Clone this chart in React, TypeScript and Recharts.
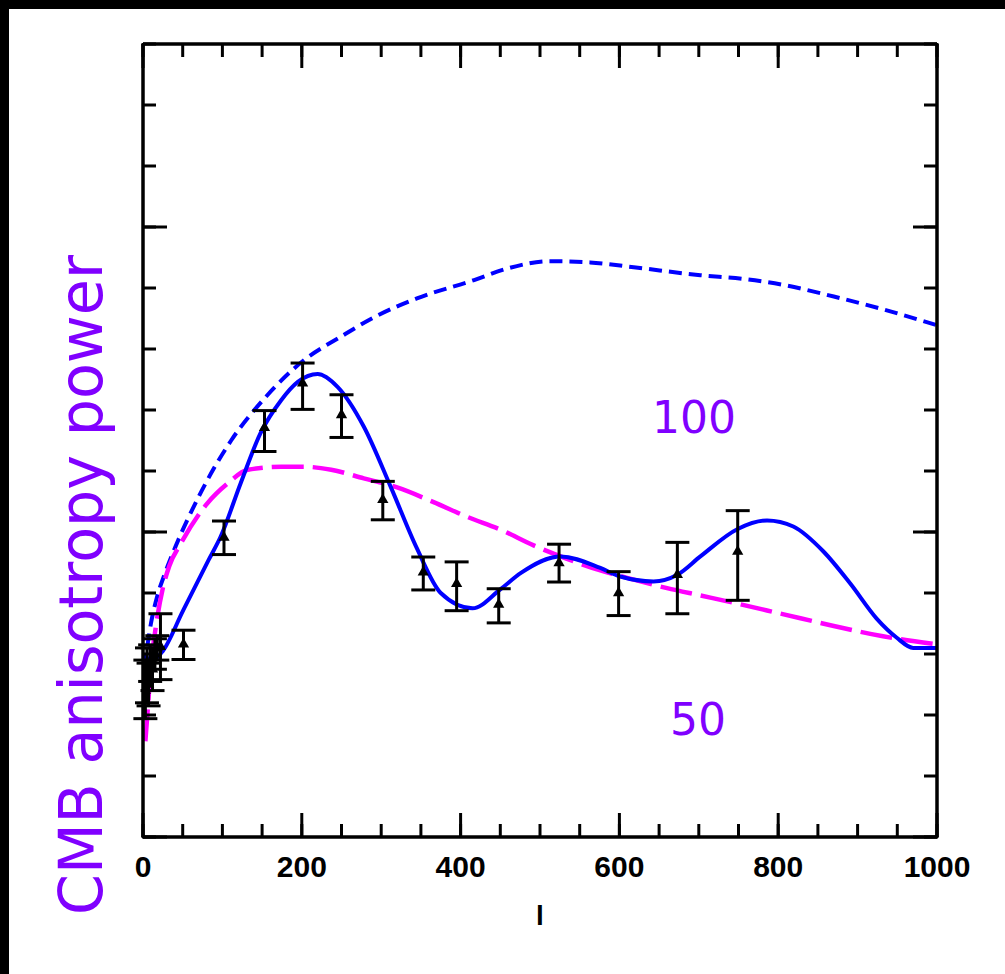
import {
  ComposedChart,
  Line,
  Scatter,
  XAxis,
  YAxis,
  ZAxis,
  ErrorBar,
} from "recharts";

// multipole l on x, power on y (frame spans 0..130)
const X_MINOR_TICKS = [
  0, 50, 100, 150, 200, 250, 300, 350, 400, 450, 500, 550, 600, 650, 700, 750,
  800, 850, 900, 950, 1000,
];
const X_MAJOR_TICKS = [0, 200, 400, 600, 800, 1000];
const Y_MINOR_TICKS = [0, 10, 20, 30, 40, 50, 60, 70, 80, 90, 100, 110, 120, 130];
const Y_MAJOR_TICKS = [0, 50, 100];

// blue solid model
const SOLID_L = [
  2, 10, 18, 25, 50, 83, 98, 123, 148, 174, 195, 220, 245, 278, 312, 345, 375,
  415, 450, 476, 526, 576, 601, 643, 673, 702, 749, 786, 819, 857, 891, 924,
  949, 970, 1000,
];
const SOLID_Y = [
  29.5, 29.2, 29.5, 30.5, 37, 45.5, 49.3, 58, 66.2, 71.6, 74.6, 75.9, 73.8,
  67.3, 57.4, 47.3, 40.0, 37.5, 40.6, 43.3, 46.0, 44.1, 42.7, 41.9, 43.0, 46.0,
  50.5, 51.9, 50.9, 46.8, 41.5, 35.8, 32.7, 31.0, 31.0,
];

// blue dashed model
const DASHED_L = [
  2, 10, 18, 27, 39, 69, 111, 153, 203, 249, 291, 345, 417, 459, 513, 563, 618,
  702, 756, 807, 870, 932, 1000,
];
const DASHED_Y = [
  28, 35, 39.5, 43, 47, 55.5, 65, 71.9, 78.2, 82, 85.2, 88.3, 91.3, 93.2, 94.4,
  94.2, 93.4, 92.1, 91.5, 90.5, 88.6, 86.5, 83.9,
];

// magenta long-dashed model
const MAGENTA_L = [
  3, 6, 10, 16, 25, 33, 48, 81, 107, 132, 174, 203, 237, 278, 320, 366, 408,
  450, 492, 534, 576, 618, 660, 702, 744, 807, 870, 932, 1000,
];
const MAGENTA_Y = [
  15.7, 21, 28, 34.3, 40.8, 44.4, 48.2, 54.7, 58.0, 60.2, 60.7, 60.7, 60.2,
  58.8, 57.3, 54.9, 52.5, 50.4, 47.8, 45.6, 43.7, 42.2, 40.8, 39.6, 38.4, 36.5,
  34.6, 32.9, 31.6,
];

// measurements with asymmetric error bars
const POINT_L = [
  3, 5, 7, 9, 12, 15, 18, 22, 51, 102, 153, 201, 250, 302, 353, 395, 448, 524,
  599, 673, 749,
];
const POINT_Y = [
  24, 26.5, 25, 28.5, 27.5, 30, 31, 31.2, 31.6, 49.1, 67.1, 74.4, 69.2, 55.3,
  43.4, 41.5, 38.1, 44.9, 40.0, 43.0, 46.8,
];
const POINT_ERR_LO = [
  4.6, 4.5, 3.5, 3, 3.5, 2.5, 2, 5.4, 2.5, 2.8, 3.9, 4.3, 3.7, 3.3, 2.9, 4.4,
  3.0, 3.1, 3.7, 6.4, 8.0,
];
const POINT_ERR_HI = [
  5, 4.5, 3.5, 3, 3.5, 2.5, 2, 5.4, 2.3, 2.7, 2.8, 3.3, 3.3, 3.0, 2.5, 3.6,
  2.6, 3.1, 3.5, 5.3, 6.7,
];

const solid = SOLID_L.map((l, i) => ({ l, y: SOLID_Y[i] }));
const dashed = DASHED_L.map((l, i) => ({ l, y: DASHED_Y[i] }));
const magenta = MAGENTA_L.map((l, i) => ({ l, y: MAGENTA_Y[i] }));
const points = POINT_L.map((l, i) => ({
  l,
  y: POINT_Y[i],
  err: [POINT_ERR_LO[i], POINT_ERR_HI[i]],
}));

const AXIS = { stroke: "#000", strokeWidth: 3.5 };
const TICK = { stroke: "#000", strokeWidth: 3 };
const PURPLE = "#8000ff";
const noLabel = () => null;
const xLabel = (v: number) => (v % 200 === 0 ? String(v) : "");

export default function App() {
  return (
    <div
      style={{
        position: "absolute",
        left: 0,
        top: 0,
        width: 1005,
        height: 974,
        background: "#fff",
        overflow: "hidden",
      }}
    >
      <ComposedChart
        width={1005}
        height={974}
        margin={{ top: 42, right: 66, bottom: 135, left: 141 }}
      >
        <ZAxis range={[55, 55]} />
        <XAxis
          xAxisId="b"
          dataKey="l"
          type="number"
          domain={[0, 1000]}
          ticks={X_MINOR_TICKS}
          interval={0}
          tickFormatter={xLabel}
          tickSize={-13}
          tickMargin={32}
          height={1}
          axisLine={AXIS}
          tickLine={TICK}
          tick={{
            fill: "#000",
            fontSize: 30,
            fontWeight: "bold",
            fontFamily: "Liberation Sans, Arial, sans-serif",
          }}
          allowDataOverflow
        />
        <XAxis
          xAxisId="bMajor"
          dataKey="l"
          type="number"
          domain={[0, 1000]}
          ticks={X_MAJOR_TICKS}
          interval={0}
          tick={noLabel}
          tickSize={-25}
          height={1}
          axisLine={false}
          tickLine={TICK}
          allowDataOverflow
        />
        <XAxis
          xAxisId="t"
          orientation="top"
          dataKey="l"
          type="number"
          domain={[0, 1000]}
          ticks={X_MINOR_TICKS}
          interval={0}
          tick={noLabel}
          tickSize={-13}
          height={1}
          axisLine={AXIS}
          tickLine={TICK}
          allowDataOverflow
        />
        <XAxis
          xAxisId="tMajor"
          orientation="top"
          dataKey="l"
          type="number"
          domain={[0, 1000]}
          ticks={X_MAJOR_TICKS}
          interval={0}
          tick={noLabel}
          tickSize={-25}
          height={1}
          axisLine={false}
          tickLine={TICK}
          allowDataOverflow
        />
        <YAxis
          yAxisId="l"
          dataKey="y"
          type="number"
          domain={[0, 130]}
          ticks={Y_MINOR_TICKS}
          interval={0}
          tick={noLabel}
          tickSize={-13}
          width={1}
          axisLine={AXIS}
          tickLine={TICK}
          allowDataOverflow
        />
        <YAxis
          yAxisId="lMajor"
          type="number"
          domain={[0, 130]}
          ticks={Y_MAJOR_TICKS}
          interval={0}
          tick={noLabel}
          tickSize={-25}
          width={1}
          axisLine={false}
          tickLine={TICK}
          allowDataOverflow
        />
        <YAxis
          yAxisId="r"
          orientation="right"
          type="number"
          domain={[0, 130]}
          ticks={Y_MINOR_TICKS}
          interval={0}
          tick={noLabel}
          tickSize={-13}
          width={1}
          axisLine={AXIS}
          tickLine={TICK}
          allowDataOverflow
        />
        <YAxis
          yAxisId="rMajor"
          orientation="right"
          type="number"
          domain={[0, 130]}
          ticks={Y_MAJOR_TICKS}
          interval={0}
          tick={noLabel}
          tickSize={-25}
          width={1}
          axisLine={false}
          tickLine={TICK}
          allowDataOverflow
        />
        <Line
          xAxisId="b"
          yAxisId="l"
          data={dashed}
          dataKey="y"
          type="monotone"
          stroke="#0000ff"
          strokeWidth={4}
          strokeDasharray="13 7"
          dot={false}
          activeDot={false}
          isAnimationActive={false}
        />
        <Line
          xAxisId="b"
          yAxisId="l"
          data={magenta}
          dataKey="y"
          type="monotone"
          stroke="#ff00ff"
          strokeWidth={4.5}
          strokeDasharray="32 9"
          dot={false}
          activeDot={false}
          isAnimationActive={false}
        />
        <Line
          xAxisId="b"
          yAxisId="l"
          data={solid}
          dataKey="y"
          type="monotone"
          stroke="#0000ff"
          strokeWidth={4}
          dot={false}
          activeDot={false}
          isAnimationActive={false}
        />
        <Scatter
          xAxisId="b"
          yAxisId="l"
          data={points}
          dataKey="y"
          fill="#000"
          shape="triangle"
          isAnimationActive={false}
        >
          <ErrorBar
            dataKey="err"
            direction="y"
            width={12}
            strokeWidth={3}
            stroke="#000"
          />
        </Scatter>
      </ComposedChart>

      <svg
        width={1005}
        height={974}
        style={{ position: "absolute", left: 0, top: 0, pointerEvents: "none" }}
      >
        <text
          x={540}
          y={925}
          textAnchor="middle"
          fontSize={28}
          fontWeight="bold"
          fontFamily="Liberation Sans, Arial, sans-serif"
          fill="#000"
        >
          l
        </text>
        <text
          transform="translate(102, 915) rotate(-90)"
          fontSize={60}
          fontFamily="DejaVu Sans, sans-serif"
          fill={PURPLE}
          textLength={660}
          lengthAdjust="spacingAndGlyphs"
        >
          CMB anisotropy power
        </text>
        <text
          x={694}
          y={433}
          textAnchor="middle"
          fontSize={44}
          fontFamily="DejaVu Sans, sans-serif"
          fill={PURPLE}
        >
          100
        </text>
        <text
          x={698}
          y={735}
          textAnchor="middle"
          fontSize={44}
          fontFamily="DejaVu Sans, sans-serif"
          fill={PURPLE}
        >
          50
        </text>
      </svg>
      <div
        style={{
          position: "absolute",
          left: 0,
          top: 0,
          width: 1005,
          height: 9,
          background: "#000",
        }}
      />
      <div
        style={{
          position: "absolute",
          left: 0,
          top: 0,
          width: 9,
          height: 974,
          background: "#000",
        }}
      />
    </div>
  );
}
